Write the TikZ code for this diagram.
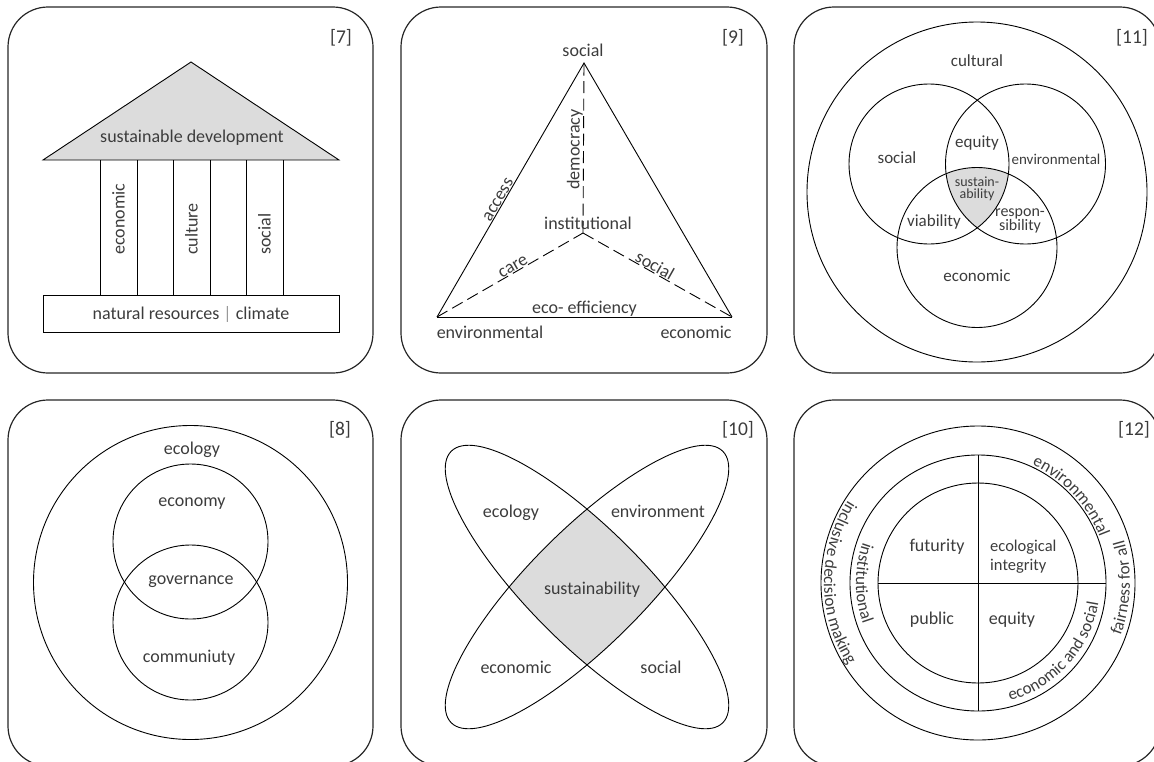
\documentclass[tikz,border=0pt]{standalone}
\usepackage{fontspec}
\setmainfont{Carlito}
\usetikzlibrary{decorations.text,calc}
\definecolor{txt}{HTML}{3C3C3C}
\definecolor{lightfill}{HTML}{DCDCDC}
\tikzset{
  panel/.style={draw=black!85, line width=1.2pt, rounded corners=40pt},
  ln/.style={draw=black, line width=0.9pt},
  lbl/.style={text=txt, font=\fontsize{18}{19}\selectfont, inner sep=1pt},
  lblm/.style={text=txt, font=\fontsize{17}{18}\selectfont, inner sep=1pt},
  reflbl/.style={text=txt, font=\fontsize{19.5}{20}\selectfont, inner sep=0pt},
  dsh/.style={ln, dash pattern=on 12pt off 5.5pt},
  edgelbl/.style={lbl, sloped, above, inner sep=0.5pt},
  curved/.style={decorate, decoration={text along path, text align=center, text color=txt, text={|\fontsize{17}{17}\selectfont|#1}}},
}
\begin{document}
\begin{tikzpicture}[x=1pt,y=1pt]
\useasboundingbox (0,0) rectangle (1154,-761);
\clip (0,0) rectangle (1154,-761);

% ---------- panel frames
\draw[panel] (8,-7) rectangle (373,-373);
\draw[panel] (401,-7) rectangle (767,-373);
\draw[panel] (794,-7) rectangle (1160,-373);
\draw[panel] (8,-400) rectangle (373,-766);
\draw[panel] (401,-400) rectangle (767,-766);
\draw[panel] (794,-400) rectangle (1160,-766);

% ---------- [7] temple
\coordinate (apex) at (191,-62);
\coordinate (roofL) at (43,-160);
\coordinate (roofR) at (339,-160);
\draw[ln, fill=lightfill] (roofL) -- (apex) -- (roofR) -- cycle;
\node[lbl] (sd) at (192,-138) {sustainable development};
\foreach \x in {100,137,173,210,246,283} \draw[ln] (\x,-160) -- (\x,-295);
\draw[ln] (43,-295) rectangle (339,-332);
\node[lbl] (nr) at (191,-314) {natural resources {\color{black!40}|} climate};
\node[lbl, rotate=90, anchor=west] (p1) at (118.5,-256) {economic};
\node[lbl, rotate=90, anchor=west] (p2) at (191.5,-256) {culture};
\node[lbl, rotate=90, anchor=west] (p3) at (264.5,-256) {social};
\node[reflbl] (r7) at (341,-38) {[7]};

% ---------- [9] triangle
\coordinate (S) at (584,-63);
\coordinate (E) at (437,-317);
\coordinate (C) at (732,-317);
\coordinate (I) at (583,-233);
\draw[ln] (E) -- node[edgelbl, pos=0.45] {access} (S) -- (C);
\draw[ln] (E) -- node[lbl, above, inner sep=0.5pt] {eco- efficiency} (C);
\draw[dsh] (I) -- node[edgelbl, pos=0.49] {democracy} (S);
\draw[dsh] (E) -- node[edgelbl, pos=0.54] {care} (I);
\draw[dsh] (I) -- node[edgelbl, pos=0.46] {social} (C);
\node[lbl] (ls) at (583,-50) {social};
\node[lbl] (le) at (490,-332) {environmental};
\node[lbl] (lc) at (696,-332) {economic};
\node[lbl] (li) at (588,-223) {institutional};
\node[reflbl] (r9) at (733,-38) {[9]};

% ---------- [11] venn
\draw[ln] (977,-192) circle[radius=170];
\begin{scope}
  \clip (929,-164) circle[radius=80];
  \clip (1025.5,-164) circle[radius=80];
  \fill[lightfill] (977,-247.5) circle[radius=80];
\end{scope}
\draw[ln] (929,-164) circle[radius=80];
\draw[ln] (1025.5,-164) circle[radius=80];
\draw[ln] (977,-247.5) circle[radius=80];
\node[lblm] (cu) at (977,-61) {cultural};
\node[lblm] (so) at (897,-158) {social};
\node[lblm] (eq) at (977,-143) {equity};
\node[lbl, font=\fontsize{15}{16}\selectfont] (en) at (1056,-159) {environmental};
\node[lbl, font=\fontsize{14}{11.5}\selectfont, align=center] (su) at (977,-189) {sustain-\\ability};
\node[lblm] (vi) at (934,-222) {viability};
\node[lbl, font=\fontsize{16}{13}\selectfont, align=center] (re) at (1020,-221) {respon-\\sibility};
\node[lblm] (ec) at (977,-276) {economic};
\node[reflbl] (r11) at (1132,-38) {[11]};

% ---------- [8] nested circles
\draw[ln] (190.5,-582.5) circle[radius=157];
\draw[ln] (190.5,-541.5) circle[radius=77.5];
\draw[ln] (190.5,-622.5) circle[radius=77.5];
\node[lbl] (eco) at (192,-450) {ecology};
\node[lbl] (ecn) at (192,-504) {economy};
\node[lbl] (gov) at (191,-582) {governance};
\node[lbl] (com) at (189,-658) {communiuty};
\node[reflbl] (r8) at (340,-430) {[8]};

% ---------- [10] ellipses
\coordinate (c5) at (587,-587);
\begin{scope}
  \clip[rotate around={45:(c5)}] (c5) ellipse[x radius=192, y radius=57.5];
  \fill[lightfill, rotate around={-45:(c5)}] (c5) ellipse[x radius=192, y radius=57.5];
\end{scope}
\draw[ln, rotate around={45:(c5)}] (c5) ellipse[x radius=192, y radius=57.5];
\draw[ln, rotate around={-45:(c5)}] (c5) ellipse[x radius=192, y radius=57.5];
\node[lbl] (e1) at (511,-513) {ecology};
\node[lbl] (e2) at (658,-511) {environment};
\node[lbl] (e3) at (592,-590) {sustainability};
\node[lbl] (e4) at (516,-667) {economic};
\node[lbl] (e5) at (661,-667) {social};
\node[reflbl] (r10) at (738,-430) {[10]};

% ---------- [12] rings
\coordinate (c6) at (978,-583);
\draw[ln] (c6) circle[radius=157];
\draw[ln] (c6) circle[radius=128];
\draw[ln] (c6) circle[radius=100];
\draw[ln] (978,-455) -- (978,-711);
\draw[ln] (878,-583) -- (1106,-583);
\node[lbl] (fu) at (937,-547) {futurity};
\node[lbl, align=left, anchor=west, font=\fontsize{16.5}{19.3}\selectfont] (ei) at (989,-557) {ecological\\integrity};
\node[lbl] (pu) at (932,-620) {public};
\node[lbl] (eqq) at (1012,-620) {equity};
\node[reflbl] (r12) at (1134,-430) {[12]};
\path[curved={inclusive decision making}] ($(c6)+(120:154)$) arc[start angle=120, end angle=240, radius=154];
\path[curved={institutional}] ($(c6)+(145:122)$) arc[start angle=145, end angle=215, radius=122];
\path[curved={environmental}] ($(c6)+(85:130)$) arc[start angle=85, end angle=1, radius=130];
\path[curved={fairness for all}] ($(c6)+(-35:152)$) arc[start angle=-35, end angle=31, radius=152];
\path[curved={economic and social}] ($(c6)+(-85:122)$) arc[start angle=-85, end angle=1, radius=122];
\end{tikzpicture}
\end{document}
